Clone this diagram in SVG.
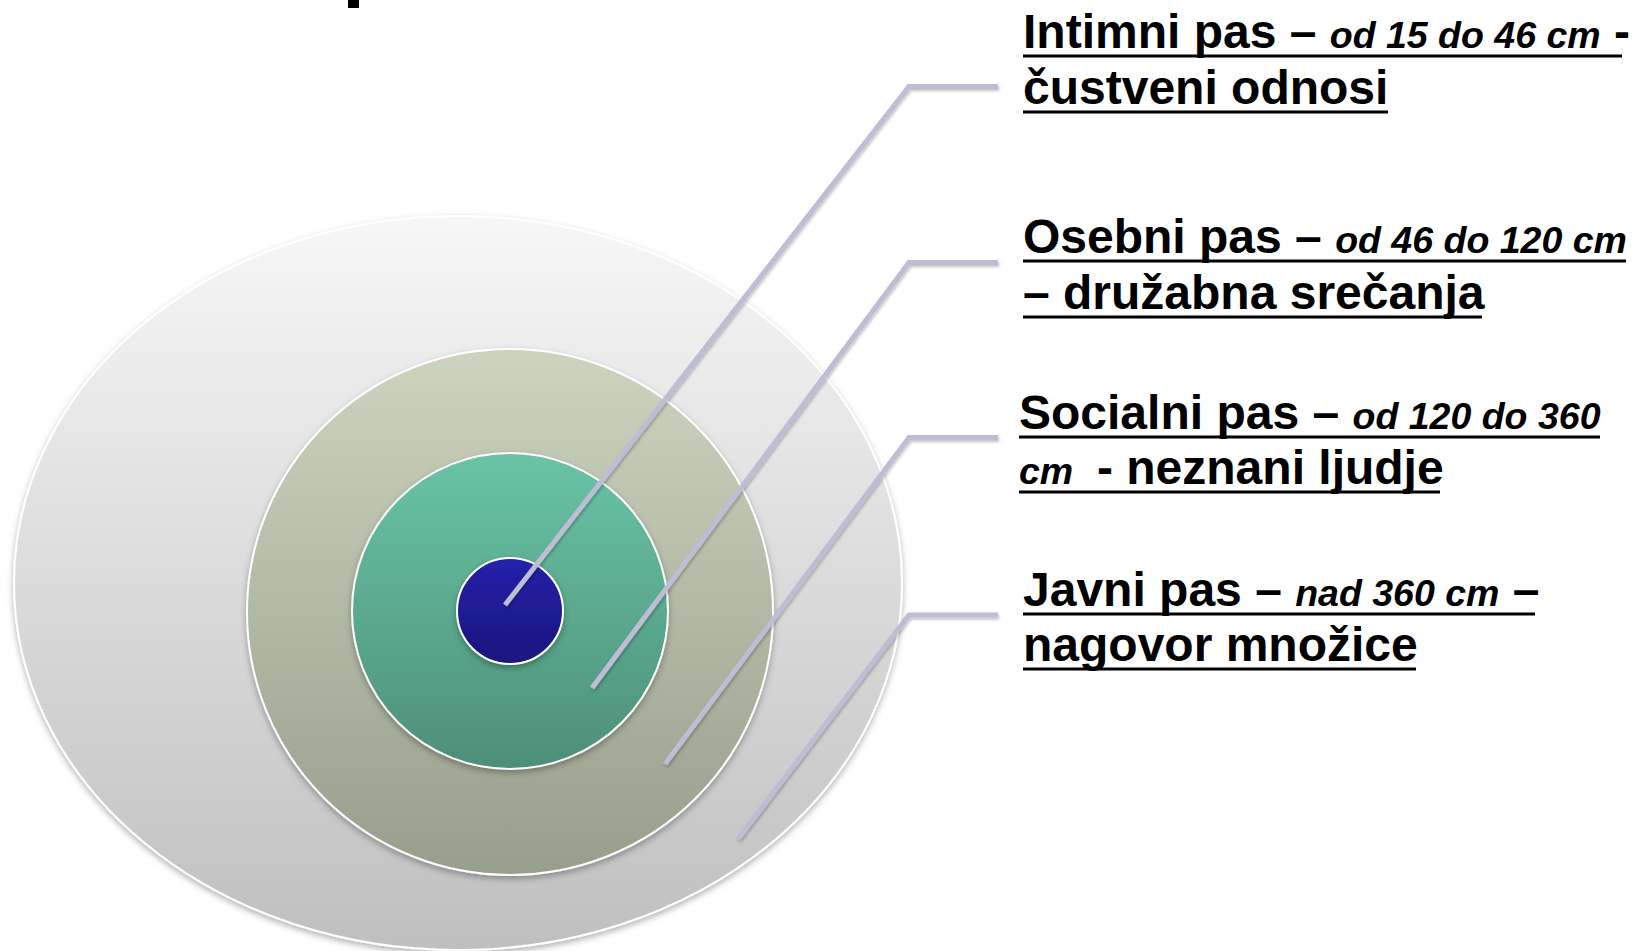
<svg xmlns="http://www.w3.org/2000/svg" width="1634" height="951" viewBox="0 0 1634 951">
<defs>
<linearGradient id="gOuter" x1="0" y1="0" x2="0" y2="1"><stop offset="0" stop-color="#f7f7f7"/><stop offset="1" stop-color="#bfbfbf"/></linearGradient>
<linearGradient id="gMid" x1="0" y1="0" x2="0" y2="1"><stop offset="0" stop-color="#ccd4bf"/><stop offset="1" stop-color="#979f8c"/></linearGradient>
<linearGradient id="gGreen" x1="0" y1="0" x2="0" y2="1"><stop offset="0" stop-color="#69c4a6"/><stop offset="1" stop-color="#4d8f79"/></linearGradient>
<linearGradient id="gBlue" x1="0" y1="0" x2="0" y2="1"><stop offset="0" stop-color="#2521ab"/><stop offset="1" stop-color="#1a157c"/></linearGradient>
<filter id="sh" x="-10%" y="-10%" width="120%" height="125%"><feDropShadow dx="0" dy="3" stdDeviation="3" flood-color="#000" flood-opacity="0.3"/></filter>
<filter id="lsh" x="-10%" y="-10%" width="120%" height="120%"><feDropShadow dx="1" dy="2" stdDeviation="1.5" flood-color="#000" flood-opacity="0.25"/></filter>
</defs>
<style>
.ring{stroke:#ffffff;stroke-width:2;filter:url(#sh)}
.conn{fill:none;stroke:#bdbdd5;stroke-width:5;stroke-linejoin:miter;filter:url(#lsh)}
.t{font-family:"Liberation Sans",Arial,sans-serif;font-weight:bold;font-size:48px;fill:#000}
.i{font-style:italic;font-size:37.5px}
.ul{stroke:#000;stroke-width:3}
</style>
<rect width="1634" height="951" fill="#ffffff"/>
<rect x="348" y="0" width="11" height="8" fill="#000"/>
<g id="ring-javni"><ellipse class="ring" cx="458" cy="583" rx="444" ry="367" fill="url(#gOuter)"/></g>
<g id="ring-socialni"><circle class="ring" cx="510" cy="612" r="263" fill="url(#gMid)"/></g>
<g id="ring-osebni"><circle class="ring" cx="510" cy="611" r="158" fill="url(#gGreen)"/></g>
<g id="ring-intimni"><circle class="ring" cx="510" cy="611" r="53" fill="url(#gBlue)"/></g>
<g id="connectors">
<polyline class="conn" points="505,605 909,86.5 998,86.5"/>
<polyline class="conn" points="592,688 909,262.5 998,262.5"/>
<polyline class="conn" points="665,764 909,437.5 998,437.5"/>
<polyline class="conn" points="738,839 909,615 998,615"/>
</g>
<g id="label-intimni">
<text class="t" x="1023" y="48">Intimni pas – <tspan class="i">od 15 do 46 cm</tspan> -</text>
<text class="t" x="1023" y="104">čustveni odnosi</text>
<line class="ul" x1="1023" y1="56" x2="1622" y2="56"/>
<line class="ul" x1="1023" y1="112" x2="1388" y2="112"/>
</g>
<g id="label-osebni">
<text class="t" x="1023" y="253">Osebni pas – <tspan class="i">od 46 do 120 cm</tspan></text>
<text class="t" x="1023" y="309">– družabna srečanja</text>
<line class="ul" x1="1023" y1="261" x2="1626" y2="261"/>
<line class="ul" x1="1023" y1="317" x2="1482" y2="317"/>
</g>
<g id="label-socialni">
<text class="t" x="1019" y="429">Socialni pas – <tspan class="i">od 120 do 360</tspan></text>
<text class="t" x="1019" y="484"><tspan class="i">cm </tspan>&#160;- neznani ljudje</text>
<line class="ul" x1="1019" y1="437" x2="1600" y2="437"/>
<line class="ul" x1="1019" y1="492" x2="1440" y2="492"/>
</g>
<g id="label-javni">
<text class="t" x="1023" y="606">Javni pas – <tspan class="i">nad 360 cm</tspan> –</text>
<text class="t" x="1023" y="661">nagovor množice</text>
<line class="ul" x1="1023" y1="614" x2="1535" y2="614"/>
<line class="ul" x1="1023" y1="669" x2="1416" y2="669"/>
</g>
</svg>
